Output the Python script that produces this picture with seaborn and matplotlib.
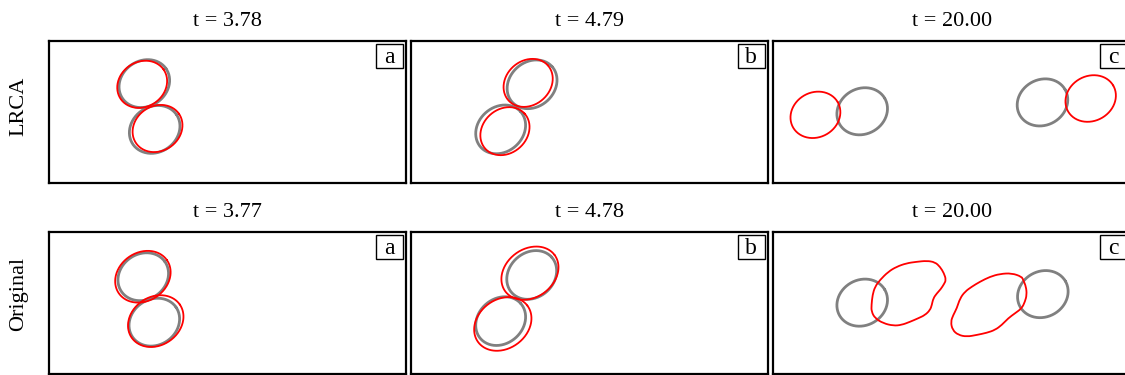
import numpy as np
import pandas as pd
import matplotlib
matplotlib.use("Agg")
import matplotlib.pyplot as plt
from matplotlib.patches import Rectangle, PathPatch
from matplotlib.path import Path
import seaborn as sns

# ---- data -------------------------------------------------------------
row_names = ["LRCA", "Original"]
panel_letters = ["a", "b", "c"]
times = [["3.78", "4.79", "20.00"],
         ["3.77", "4.78", "20.00"]]

# droplet ellipses: (centre x, centre y, semi-major, semi-minor, tilt deg)
lrca_grey = [
    [(2.67, 2.80, 0.74, 0.64, 35), (2.96, 1.51, 0.74, 0.64, 35)],
    [(3.40, 2.78, 0.75, 0.63, 42), (2.52, 1.51, 0.75, 0.63, 42)],
    [(2.49, 2.02, 0.73, 0.64, 30), (7.54, 2.27, 0.73, 0.64, 30)],
]
lrca_red = [
    [(2.61, 2.78, 0.73, 0.63, 35), (3.04, 1.535, 0.73, 0.63, 35)],
    [(3.29, 2.82, 0.74, 0.62, 42), (2.64, 1.46, 0.74, 0.62, 42)],
    [(1.18, 1.92, 0.72, 0.63, 30), (8.89, 2.38, 0.73, 0.63, 30)],
]
orig_grey = [
    [(2.64, 2.74, 0.74, 0.64, 35), (2.95, 1.46, 0.74, 0.64, 35)],
    [(3.39, 2.79, 0.75, 0.63, 42), (2.52, 1.49, 0.75, 0.63, 42)],
    [(2.49, 2.01, 0.73, 0.64, 30), (7.55, 2.25, 0.73, 0.64, 30)],
]
orig_red = [
    [(2.63, 2.74, 0.82, 0.68, 35), (2.99, 1.49, 0.82, 0.68, 35)],
    [(3.34, 2.84, 0.86, 0.68, 37), (2.58, 1.41, 0.86, 0.69, 37)],
    [],
]

# deformed interfaces at t = 20 (original model)
blob_left_x = [4.30, 4.01, 3.73, 3.45, 3.22, 2.99, 2.85, 2.78, 2.75, 2.75,
               2.85, 3.08, 3.36, 3.59, 3.83, 4.06, 4.25, 4.39, 4.44, 4.48,
               4.58, 4.69, 4.78, 4.84, 4.78, 4.67, 4.53]
blob_left_y = [3.19, 3.16, 3.12, 3.02, 2.88, 2.65, 2.46, 2.23, 1.94, 1.76,
               1.57, 1.43, 1.36, 1.38, 1.47, 1.57, 1.66, 1.80, 1.94, 2.13,
               2.27, 2.39, 2.53, 2.65, 2.84, 3.02, 3.15]
blob_right_x = [6.96, 6.68, 6.35, 6.07, 5.79, 5.56, 5.37, 5.23, 5.14, 5.04,
                4.97, 5.02, 5.18, 5.42, 5.70, 5.98, 6.21, 6.40, 6.58, 6.77,
                6.96, 7.05, 7.10, 7.08, 7.00]
blob_right_y = [2.74, 2.84, 2.82, 2.74, 2.60, 2.46, 2.32, 2.13, 1.85, 1.66,
                1.47, 1.24, 1.10, 1.05, 1.10, 1.16, 1.24, 1.38, 1.57, 1.71,
                1.85, 2.04, 2.23, 2.46, 2.65]

x_range = (0, 10)
y_range = (0, 4)

GREY = "#808080"
RED = "#ff0000"
GREY_LW = 2.0
RED_LW = 1.3


def ellipse_frame(cx, cy, a, b, ang, n=240):
    t = np.linspace(0, 2 * np.pi, n)
    th = np.deg2rad(ang)
    x = cx + a * np.cos(t) * np.cos(th) - b * np.sin(t) * np.sin(th)
    y = cy + a * np.cos(t) * np.sin(th) + b * np.sin(t) * np.cos(th)
    return pd.DataFrame({"x": x, "y": y})


def draw_curve(ax, df, color, lw):
    sns.lineplot(data=df, x="x", y="y", sort=False, estimator=None,
                 color=color, linewidth=lw, ax=ax, legend=False)


def draw_blob(ax, xs, ys, color, lw):
    # closed quadratic B-spline through the traced outline points
    pts = np.column_stack([xs, ys])
    n = len(pts)
    mids = (pts + np.roll(pts, -1, axis=0)) / 2
    verts = [mids[-1]]
    codes = [Path.MOVETO]
    for i in range(n):
        verts += [pts[i], mids[i]]
        codes += [Path.CURVE3, Path.CURVE3]
    path = Path(verts, codes)
    ax.add_patch(PathPatch(path, facecolor="none", edgecolor=color,
                           linewidth=lw, zorder=3))


sns.set_theme(style="white")
plt.rcParams["font.family"] = ["Liberation Serif", "DejaVu Serif"]

W, H = 1125, 375
fig = plt.figure(figsize=(W / 100, H / 100), dpi=100)

col_left = [49, 410.7, 773.3]
row_top = [41, 232]
pw, ph = 357, 142

grey_sets = [lrca_grey, orig_grey]
red_sets = [lrca_red, orig_red]

for r in range(2):
    for c in range(3):
        ax = fig.add_axes([col_left[c] / W, 1 - (row_top[r] + ph) / H,
                           pw / W, ph / H])
        for e in grey_sets[r][c]:
            draw_curve(ax, ellipse_frame(*e), GREY, GREY_LW)
        for e in red_sets[r][c]:
            draw_curve(ax, ellipse_frame(*e), RED, RED_LW)
        if r == 1 and c == 2:
            draw_blob(ax, blob_left_x, blob_left_y, RED, RED_LW)
            draw_blob(ax, blob_right_x, blob_right_y, RED, RED_LW)
        ax.set_xlim(*x_range)
        ax.set_ylim(*y_range)
        ax.set_xticks([])
        ax.set_yticks([])
        ax.set_xlabel("")
        ax.set_ylabel("")
        for s in ax.spines.values():
            s.set_visible(True)
            s.set_color("black")
            s.set_linewidth(1.6)
        ax.set_title(f"t = {times[r][c]}", fontsize=16, pad=11, color="black")
        # panel letter box
        bx, by, bw, bh = 1 - 30 / pw, 1 - 27 / ph, 27 / pw, 24 / ph
        ax.add_patch(Rectangle((bx, by), bw, bh, transform=ax.transAxes,
                               facecolor="white", edgecolor="black",
                               linewidth=1.0, zorder=5, clip_on=False))
        ax.text(bx + bw / 2, by + bh / 2 - 0.01, panel_letters[c],
                transform=ax.transAxes, ha="center", va="center",
                fontsize=17, color="black", zorder=6)

fig.text(18.5 / W, 1 - 106 / H, row_names[0], rotation=90, ha="center",
         va="center", fontsize=16, color="black")
fig.text(18.5 / W, 1 - 294 / H, row_names[1], rotation=90, ha="center",
         va="center", fontsize=16, color="black")

fig.savefig("out.png", dpi=100, facecolor="white")
